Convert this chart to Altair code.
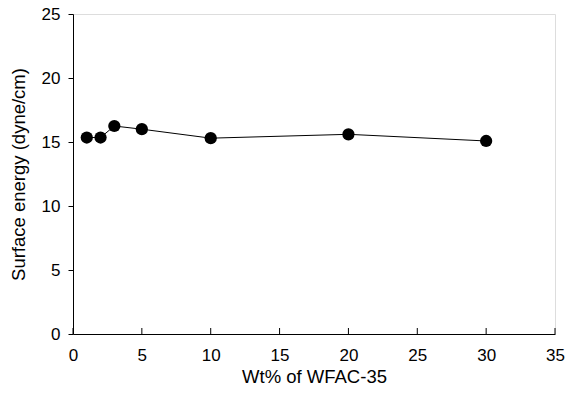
import altair as alt
import pandas as pd

wt_pct = [1, 2, 3, 5, 10, 20, 30]
surface_energy = [15.35, 15.35, 16.25, 16.0, 15.3, 15.6, 15.08]
x_ticks = [0, 5, 10, 15, 20, 25, 30, 35]
y_ticks = [0, 5, 10, 15, 20, 25]

df = pd.DataFrame({"x": wt_pct, "y": surface_energy})
tick_df = pd.DataFrame({"t": x_ticks})

FONT = "Liberation Sans"

xscale = alt.Scale(domain=[0, 35], nice=False)
yscale = alt.Scale(domain=[0, 25], nice=False)

base = alt.Chart(df)

line = base.mark_line(color="black", strokeWidth=1).encode(
    x=alt.X("x:Q", scale=xscale,
            axis=alt.Axis(values=x_ticks, title="Wt% of WFAC-35", tickSize=0,
                          labelPadding=13, titlePadding=4, grid=False,
                          domainColor="black", labelColor="black",
                          titleColor="black", labelFontSize=17, titleFontSize=18.5,
                          labelFont=FONT, titleFont=FONT, titleFontWeight="normal",
                          labelFlush=False)),
    y=alt.Y("y:Q", scale=yscale,
            axis=alt.Axis(values=y_ticks, title="Surface energy (dyne/cm)", tickSize=5,
                          labelPadding=8, titlePadding=13, grid=False,
                          domainColor="black", tickColor="black", labelColor="black",
                          titleColor="black", labelFontSize=17, titleFontSize=18.5,
                          labelFont=FONT, titleFont=FONT, titleFontWeight="normal",
                          labelFlush=False)),
)

points = base.mark_circle(color="black", size=150, opacity=1).encode(
    x=alt.X("x:Q", scale=xscale),
    y=alt.Y("y:Q", scale=yscale),
)

inner_ticks = alt.Chart(tick_df).mark_rule(color="black", strokeWidth=1).encode(
    x=alt.X("t:Q", scale=xscale),
    y=alt.value(320),
    y2=alt.value(314),
)

chart = (
    alt.layer(line, points, inner_ticks)
    .properties(
        width=482, height=320,
        autosize=alt.AutoSizeParams(type="none"),
        padding={"left": 73, "top": 14, "right": 22, "bottom": 60},
    )
    .configure_view(stroke="black", strokeWidth=1)
    .configure(background="white")
)

chart.save("out.html", embed_options={"renderer": "svg", "actions": False})
